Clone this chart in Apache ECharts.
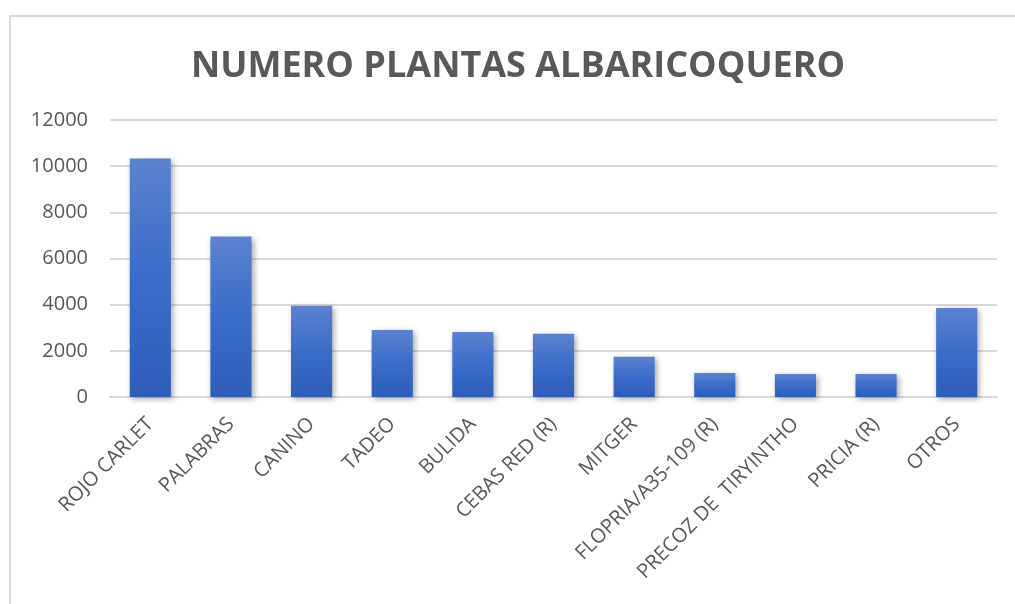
<!DOCTYPE html>
<html>
<head>
<meta charset="utf-8">
<script src="https://cdn.jsdelivr.net/npm/echarts@6/dist/echarts.min.js"></script>
<style>
  html, body { margin: 0; padding: 0; background: #fff; }
  .frame {
    position: absolute; left: 9px; top: 15px; width: 1010px; height: 600px;
    border-top: 2px solid #d9d9d9; border-left: 2px solid #d9d9d9;
  }
  #chart { position: absolute; left: 0; top: 0; width: 1015px; height: 604px; }
</style>
</head>
<body>
<div class="frame"></div>
<div id="chart"></div>
<script>
// variedades
const categories = [
  'ROJO CARLET', 'PALABRAS', 'CANINO', 'TADEO', 'BULIDA', 'CEBAS RED (R)',
  'MITGER', 'FLOPRIA/A35-109 (R)', 'PRECOZ DE  TIRYINTHO', 'PRICIA (R)', 'OTROS'
]
// numero de plantas
const plantas = [10330, 6950, 3950, 2900, 2820, 2740, 1740, 1040, 1000, 1000, 3860]
// eje Y
const yMin = 0
const yMax = 12000
const yStep = 2000

const myChart = echarts.init(document.getElementById('chart'))
const gray = '#595959'
const option = {
  animation: false,
  title: {
    text: 'NUMERO PLANTAS ALBARICOQUERO',
    left: 186,
    top: 44,
    textStyle: {
      fontFamily: 'Open Sans',
      fontWeight: 'bold',
      fontSize: 36,
      color: gray
    }
  },
  grid: {
    left: 110,
    right: 18,
    top: 120,
    bottom: 207
  },
  xAxis: {
    type: 'category',
    data: categories,
    axisLine: { show: true, lineStyle: { color: '#d9d9d9', width: 2 } },
    axisTick: { show: false },
    axisLabel: {
      rotate: 45,
      interval: 0,
      margin: 24,
      color: gray,
      fontFamily: 'Open Sans',
      fontSize: 20
    }
  },
  yAxis: {
    type: 'value',
    min: yMin,
    max: yMax,
    interval: yStep,
    axisLine: { show: false },
    axisTick: { show: false },
    axisLabel: {
      margin: 22,
      color: gray,
      fontFamily: 'Open Sans',
      fontSize: 20,
      formatter: (v) => String(v)
    },
    splitLine: { lineStyle: { color: '#d9d9d9', width: 2 } }
  },
  series: [{
    type: 'bar',
    data: plantas,
    barCategoryGap: '49%',
    itemStyle: {
      color: new echarts.graphic.LinearGradient(0, 0, 0, 1, [
        { offset: 0, color: '#5c82cf' },
        { offset: 0.5, color: '#3a6cc9' },
        { offset: 1, color: '#2e5db9' }
      ]),
      shadowColor: 'rgba(0, 0, 0, 0.35)',
      shadowBlur: 6,
      shadowOffsetX: 2,
      shadowOffsetY: 2
    }
  }]
}
myChart.setOption(option)
</script>
</body>
</html>
